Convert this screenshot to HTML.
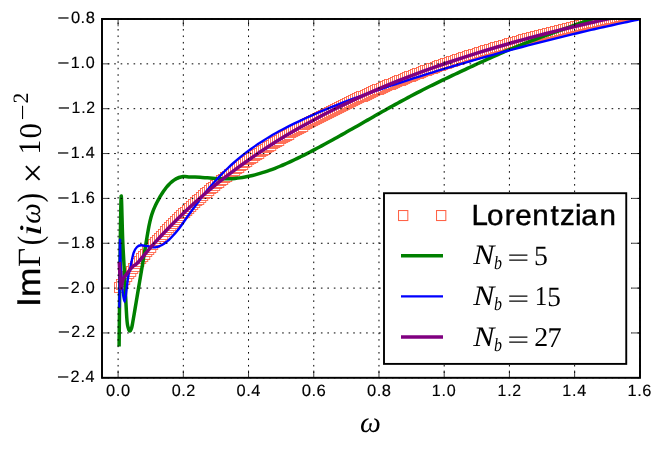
<!DOCTYPE html>
<html><head><meta charset="utf-8"><title>chart</title>
<style>html,body{margin:0;padding:0;background:#fff;}body{width:664px;height:452px;overflow:hidden;font-family:"Liberation Sans",sans-serif;}svg{display:block;will-change:transform;}text{-webkit-font-smoothing:antialiased;text-rendering:geometricPrecision;}</style>
</head><body>
<svg width="664" height="452" viewBox="0 0 664 452" role="img" aria-label="Im Gamma(i omega) versus omega chart">
<defs><clipPath id="ax"><rect x="102.0" y="19.0" width="538.0" height="358.8"/></clipPath></defs>
<rect width="664" height="452" fill="#fff"/>
<g clip-path="url(#ax)">
<g fill="#fff" stroke="#FF6347" stroke-width="0.9">
<rect x="114.45" y="282.45" width="9.3" height="10.0"/>
<rect x="116.45" y="279.45" width="9.3" height="10.0"/>
<rect x="118.45" y="276.45" width="9.3" height="10.0"/>
<rect x="120.45" y="274.45" width="9.3" height="10.0"/>
<rect x="122.45" y="271.45" width="9.3" height="10.0"/>
<rect x="124.45" y="268.45" width="9.3" height="10.0"/>
<rect x="126.45" y="266.45" width="9.3" height="10.0"/>
<rect x="128.45" y="263.45" width="9.3" height="10.0"/>
<rect x="130.45" y="261.45" width="9.3" height="10.0"/>
<rect x="132.45" y="258.45" width="9.3" height="10.0"/>
<rect x="134.45" y="256.45" width="9.3" height="10.0"/>
<rect x="136.45" y="253.45" width="9.3" height="10.0"/>
<rect x="138.45" y="251.45" width="9.3" height="10.0"/>
<rect x="140.45" y="249.45" width="9.3" height="10.0"/>
<rect x="142.45" y="246.45" width="9.3" height="10.0"/>
<rect x="144.45" y="244.45" width="9.3" height="10.0"/>
<rect x="146.45" y="242.45" width="9.3" height="10.0"/>
<rect x="148.45" y="239.45" width="9.3" height="10.0"/>
<rect x="150.45" y="237.45" width="9.3" height="10.0"/>
<rect x="152.45" y="235.45" width="9.3" height="10.0"/>
<rect x="154.45" y="233.45" width="9.3" height="10.0"/>
<rect x="156.45" y="231.45" width="9.3" height="10.0"/>
<rect x="158.45" y="229.45" width="9.3" height="10.0"/>
<rect x="160.45" y="226.45" width="9.3" height="10.0"/>
<rect x="162.45" y="224.45" width="9.3" height="10.0"/>
<rect x="164.45" y="222.45" width="9.3" height="10.0"/>
<rect x="166.45" y="220.45" width="9.3" height="10.0"/>
<rect x="168.45" y="218.45" width="9.3" height="10.0"/>
<rect x="170.45" y="216.45" width="9.3" height="10.0"/>
<rect x="172.45" y="214.45" width="9.3" height="10.0"/>
<rect x="174.45" y="212.45" width="9.3" height="10.0"/>
<rect x="176.45" y="210.45" width="9.3" height="10.0"/>
<rect x="178.45" y="208.45" width="9.3" height="10.0"/>
<rect x="180.45" y="207.45" width="9.3" height="10.0"/>
<rect x="182.45" y="205.45" width="9.3" height="10.0"/>
<rect x="184.45" y="203.45" width="9.3" height="10.0"/>
<rect x="186.45" y="201.45" width="9.3" height="10.0"/>
<rect x="188.45" y="199.45" width="9.3" height="10.0"/>
<rect x="190.45" y="197.45" width="9.3" height="10.0"/>
<rect x="192.45" y="195.45" width="9.3" height="10.0"/>
<rect x="194.45" y="194.45" width="9.3" height="10.0"/>
<rect x="196.45" y="192.45" width="9.3" height="10.0"/>
<rect x="198.45" y="190.45" width="9.3" height="10.0"/>
<rect x="200.45" y="188.45" width="9.3" height="10.0"/>
<rect x="202.45" y="187.45" width="9.3" height="10.0"/>
<rect x="204.45" y="185.45" width="9.3" height="10.0"/>
<rect x="206.45" y="183.45" width="9.3" height="10.0"/>
<rect x="208.45" y="182.45" width="9.3" height="10.0"/>
<rect x="210.45" y="180.45" width="9.3" height="10.0"/>
<rect x="212.45" y="178.45" width="9.3" height="10.0"/>
<rect x="214.45" y="177.45" width="9.3" height="10.0"/>
<rect x="216.45" y="175.45" width="9.3" height="10.0"/>
<rect x="218.45" y="174.45" width="9.3" height="10.0"/>
<rect x="220.45" y="172.45" width="9.3" height="10.0"/>
<rect x="222.45" y="171.45" width="9.3" height="10.0"/>
<rect x="224.45" y="169.45" width="9.3" height="10.0"/>
<rect x="226.45" y="168.45" width="9.3" height="10.0"/>
<rect x="228.45" y="166.45" width="9.3" height="10.0"/>
<rect x="230.45" y="165.45" width="9.3" height="10.0"/>
<rect x="232.45" y="163.45" width="9.3" height="10.0"/>
<rect x="234.45" y="162.45" width="9.3" height="10.0"/>
<rect x="236.45" y="160.45" width="9.3" height="10.0"/>
<rect x="238.45" y="159.45" width="9.3" height="10.0"/>
<rect x="240.45" y="157.45" width="9.3" height="10.0"/>
<rect x="242.45" y="156.45" width="9.3" height="10.0"/>
<rect x="244.45" y="154.45" width="9.3" height="10.0"/>
<rect x="246.45" y="153.45" width="9.3" height="10.0"/>
<rect x="248.45" y="152.45" width="9.3" height="10.0"/>
<rect x="250.45" y="150.45" width="9.3" height="10.0"/>
<rect x="252.45" y="149.45" width="9.3" height="10.0"/>
<rect x="254.45" y="148.45" width="9.3" height="10.0"/>
<rect x="256.45" y="146.45" width="9.3" height="10.0"/>
<rect x="258.45" y="145.45" width="9.3" height="10.0"/>
<rect x="260.45" y="144.45" width="9.3" height="10.0"/>
<rect x="262.45" y="142.45" width="9.3" height="10.0"/>
<rect x="264.45" y="141.45" width="9.3" height="10.0"/>
<rect x="266.45" y="140.45" width="9.3" height="10.0"/>
<rect x="268.45" y="138.45" width="9.3" height="10.0"/>
<rect x="270.45" y="137.45" width="9.3" height="10.0"/>
<rect x="272.45" y="136.45" width="9.3" height="10.0"/>
<rect x="274.45" y="135.45" width="9.3" height="10.0"/>
<rect x="276.45" y="133.45" width="9.3" height="10.0"/>
<rect x="278.45" y="132.45" width="9.3" height="10.0"/>
<rect x="280.45" y="131.45" width="9.3" height="10.0"/>
<rect x="282.45" y="130.45" width="9.3" height="10.0"/>
<rect x="284.45" y="129.45" width="9.3" height="10.0"/>
<rect x="286.45" y="127.45" width="9.3" height="10.0"/>
<rect x="288.45" y="126.45" width="9.3" height="10.0"/>
<rect x="290.45" y="125.45" width="9.3" height="10.0"/>
<rect x="292.45" y="124.45" width="9.3" height="10.0"/>
<rect x="294.45" y="123.45" width="9.3" height="10.0"/>
<rect x="296.45" y="122.45" width="9.3" height="10.0"/>
<rect x="298.45" y="121.45" width="9.3" height="10.0"/>
<rect x="300.45" y="119.45" width="9.3" height="10.0"/>
<rect x="302.45" y="118.45" width="9.3" height="10.0"/>
<rect x="304.45" y="117.45" width="9.3" height="10.0"/>
<rect x="306.45" y="116.45" width="9.3" height="10.0"/>
<rect x="308.45" y="115.45" width="9.3" height="10.0"/>
<rect x="310.45" y="114.45" width="9.3" height="10.0"/>
<rect x="312.45" y="113.45" width="9.3" height="10.0"/>
<rect x="314.45" y="112.45" width="9.3" height="10.0"/>
<rect x="316.45" y="111.45" width="9.3" height="10.0"/>
<rect x="318.45" y="110.45" width="9.3" height="10.0"/>
<rect x="320.45" y="109.45" width="9.3" height="10.0"/>
<rect x="322.45" y="108.45" width="9.3" height="10.0"/>
<rect x="324.45" y="107.45" width="9.3" height="10.0"/>
<rect x="326.45" y="106.45" width="9.3" height="10.0"/>
<rect x="328.45" y="105.45" width="9.3" height="10.0"/>
<rect x="330.45" y="104.45" width="9.3" height="10.0"/>
<rect x="332.45" y="103.45" width="9.3" height="10.0"/>
<rect x="334.45" y="102.45" width="9.3" height="10.0"/>
<rect x="336.45" y="101.45" width="9.3" height="10.0"/>
<rect x="338.45" y="100.45" width="9.3" height="10.0"/>
<rect x="340.45" y="99.45" width="9.3" height="10.0"/>
<rect x="342.45" y="98.45" width="9.3" height="10.0"/>
<rect x="344.45" y="97.45" width="9.3" height="10.0"/>
<rect x="346.45" y="96.45" width="9.3" height="10.0"/>
<rect x="348.45" y="95.45" width="9.3" height="10.0"/>
<rect x="350.45" y="94.45" width="9.3" height="10.0"/>
<rect x="352.45" y="93.45" width="9.3" height="10.0"/>
<rect x="354.45" y="92.45" width="9.3" height="10.0"/>
<rect x="356.45" y="91.45" width="9.3" height="10.0"/>
<rect x="358.45" y="91.45" width="9.3" height="10.0"/>
<rect x="360.45" y="90.45" width="9.3" height="10.0"/>
<rect x="362.45" y="89.45" width="9.3" height="10.0"/>
<rect x="364.45" y="88.45" width="9.3" height="10.0"/>
<rect x="366.45" y="87.45" width="9.3" height="10.0"/>
<rect x="368.45" y="86.45" width="9.3" height="10.0"/>
<rect x="370.45" y="85.45" width="9.3" height="10.0"/>
<rect x="372.45" y="84.45" width="9.3" height="10.0"/>
<rect x="374.45" y="84.45" width="9.3" height="10.0"/>
<rect x="376.45" y="83.45" width="9.3" height="10.0"/>
<rect x="378.45" y="82.45" width="9.3" height="10.0"/>
<rect x="380.45" y="81.45" width="9.3" height="10.0"/>
<rect x="382.45" y="80.45" width="9.3" height="10.0"/>
<rect x="384.45" y="79.45" width="9.3" height="10.0"/>
<rect x="386.45" y="79.45" width="9.3" height="10.0"/>
<rect x="388.45" y="78.45" width="9.3" height="10.0"/>
<rect x="390.45" y="77.45" width="9.3" height="10.0"/>
<rect x="392.45" y="76.45" width="9.3" height="10.0"/>
<rect x="394.45" y="75.45" width="9.3" height="10.0"/>
<rect x="396.45" y="75.45" width="9.3" height="10.0"/>
<rect x="398.45" y="74.45" width="9.3" height="10.0"/>
<rect x="400.45" y="73.45" width="9.3" height="10.0"/>
<rect x="402.45" y="72.45" width="9.3" height="10.0"/>
<rect x="404.45" y="71.45" width="9.3" height="10.0"/>
<rect x="406.45" y="71.45" width="9.3" height="10.0"/>
<rect x="408.45" y="70.45" width="9.3" height="10.0"/>
<rect x="410.45" y="69.45" width="9.3" height="10.0"/>
<rect x="412.45" y="68.45" width="9.3" height="10.0"/>
<rect x="414.45" y="68.45" width="9.3" height="10.0"/>
<rect x="416.45" y="67.45" width="9.3" height="10.0"/>
<rect x="418.45" y="66.45" width="9.3" height="10.0"/>
<rect x="420.45" y="65.45" width="9.3" height="10.0"/>
<rect x="422.45" y="65.45" width="9.3" height="10.0"/>
<rect x="424.45" y="64.45" width="9.3" height="10.0"/>
<rect x="426.45" y="63.45" width="9.3" height="10.0"/>
<rect x="428.45" y="63.45" width="9.3" height="10.0"/>
<rect x="430.45" y="62.45" width="9.3" height="10.0"/>
<rect x="432.45" y="61.45" width="9.3" height="10.0"/>
<rect x="434.45" y="60.45" width="9.3" height="10.0"/>
<rect x="436.45" y="60.45" width="9.3" height="10.0"/>
<rect x="438.45" y="59.45" width="9.3" height="10.0"/>
<rect x="440.45" y="58.45" width="9.3" height="10.0"/>
<rect x="442.45" y="58.45" width="9.3" height="10.0"/>
<rect x="444.45" y="57.45" width="9.3" height="10.0"/>
<rect x="446.45" y="56.45" width="9.3" height="10.0"/>
<rect x="448.45" y="56.45" width="9.3" height="10.0"/>
<rect x="450.45" y="55.45" width="9.3" height="10.0"/>
<rect x="452.45" y="54.45" width="9.3" height="10.0"/>
<rect x="454.45" y="54.45" width="9.3" height="10.0"/>
<rect x="456.45" y="53.45" width="9.3" height="10.0"/>
<rect x="458.45" y="52.45" width="9.3" height="10.0"/>
<rect x="460.45" y="52.45" width="9.3" height="10.0"/>
<rect x="462.45" y="51.45" width="9.3" height="10.0"/>
<rect x="464.45" y="50.45" width="9.3" height="10.0"/>
<rect x="466.45" y="50.45" width="9.3" height="10.0"/>
<rect x="468.45" y="49.45" width="9.3" height="10.0"/>
<rect x="470.45" y="49.45" width="9.3" height="10.0"/>
<rect x="472.45" y="48.45" width="9.3" height="10.0"/>
<rect x="474.45" y="47.45" width="9.3" height="10.0"/>
<rect x="476.45" y="47.45" width="9.3" height="10.0"/>
<rect x="478.45" y="46.45" width="9.3" height="10.0"/>
<rect x="480.45" y="45.45" width="9.3" height="10.0"/>
<rect x="482.45" y="45.45" width="9.3" height="10.0"/>
<rect x="484.45" y="44.45" width="9.3" height="10.0"/>
<rect x="486.45" y="44.45" width="9.3" height="10.0"/>
<rect x="488.45" y="43.45" width="9.3" height="10.0"/>
<rect x="490.45" y="42.45" width="9.3" height="10.0"/>
<rect x="492.45" y="42.45" width="9.3" height="10.0"/>
<rect x="494.45" y="41.45" width="9.3" height="10.0"/>
<rect x="496.45" y="41.45" width="9.3" height="10.0"/>
<rect x="498.45" y="40.45" width="9.3" height="10.0"/>
<rect x="500.45" y="40.45" width="9.3" height="10.0"/>
<rect x="502.45" y="39.45" width="9.3" height="10.0"/>
<rect x="504.45" y="38.45" width="9.3" height="10.0"/>
<rect x="506.45" y="38.45" width="9.3" height="10.0"/>
<rect x="508.45" y="37.45" width="9.3" height="10.0"/>
<rect x="510.45" y="37.45" width="9.3" height="10.0"/>
<rect x="512.45" y="36.45" width="9.3" height="10.0"/>
<rect x="514.45" y="36.45" width="9.3" height="10.0"/>
<rect x="516.45" y="35.45" width="9.3" height="10.0"/>
<rect x="518.45" y="34.45" width="9.3" height="10.0"/>
<rect x="520.45" y="34.45" width="9.3" height="10.0"/>
<rect x="522.45" y="33.45" width="9.3" height="10.0"/>
<rect x="524.45" y="33.45" width="9.3" height="10.0"/>
<rect x="526.45" y="32.45" width="9.3" height="10.0"/>
<rect x="528.45" y="32.45" width="9.3" height="10.0"/>
<rect x="530.45" y="31.45" width="9.3" height="10.0"/>
<rect x="532.45" y="31.45" width="9.3" height="10.0"/>
<rect x="534.45" y="30.45" width="9.3" height="10.0"/>
<rect x="536.45" y="30.45" width="9.3" height="10.0"/>
<rect x="538.45" y="29.45" width="9.3" height="10.0"/>
<rect x="540.45" y="29.45" width="9.3" height="10.0"/>
<rect x="542.45" y="28.45" width="9.3" height="10.0"/>
<rect x="544.45" y="28.45" width="9.3" height="10.0"/>
<rect x="546.45" y="27.45" width="9.3" height="10.0"/>
<rect x="548.45" y="27.45" width="9.3" height="10.0"/>
<rect x="550.45" y="26.45" width="9.3" height="10.0"/>
<rect x="552.45" y="26.45" width="9.3" height="10.0"/>
<rect x="554.45" y="25.45" width="9.3" height="10.0"/>
<rect x="556.45" y="25.45" width="9.3" height="10.0"/>
<rect x="558.45" y="24.45" width="9.3" height="10.0"/>
<rect x="560.45" y="24.45" width="9.3" height="10.0"/>
<rect x="562.45" y="23.45" width="9.3" height="10.0"/>
<rect x="564.45" y="23.45" width="9.3" height="10.0"/>
<rect x="566.45" y="22.45" width="9.3" height="10.0"/>
<rect x="568.45" y="22.45" width="9.3" height="10.0"/>
<rect x="570.45" y="21.45" width="9.3" height="10.0"/>
<rect x="572.45" y="21.45" width="9.3" height="10.0"/>
<rect x="574.45" y="20.45" width="9.3" height="10.0"/>
<rect x="576.45" y="20.45" width="9.3" height="10.0"/>
<rect x="578.45" y="19.45" width="9.3" height="10.0"/>
<rect x="580.45" y="19.45" width="9.3" height="10.0"/>
<rect x="582.45" y="18.45" width="9.3" height="10.0"/>
<rect x="584.45" y="18.45" width="9.3" height="10.0"/>
<rect x="586.45" y="17.45" width="9.3" height="10.0"/>
<rect x="588.45" y="17.45" width="9.3" height="10.0"/>
<rect x="590.45" y="17.45" width="9.3" height="10.0"/>
<rect x="592.45" y="16.45" width="9.3" height="10.0"/>
<rect x="594.45" y="16.45" width="9.3" height="10.0"/>
<rect x="596.45" y="15.45" width="9.3" height="10.0"/>
<rect x="598.45" y="15.45" width="9.3" height="10.0"/>
<rect x="600.45" y="14.45" width="9.3" height="10.0"/>
<rect x="602.45" y="14.45" width="9.3" height="10.0"/>
<rect x="604.45" y="13.45" width="9.3" height="10.0"/>
<rect x="606.45" y="13.45" width="9.3" height="10.0"/>
<rect x="608.45" y="13.45" width="9.3" height="10.0"/>
<rect x="610.45" y="12.45" width="9.3" height="10.0"/>
<rect x="612.45" y="12.45" width="9.3" height="10.0"/>
<rect x="614.45" y="11.45" width="9.3" height="10.0"/>
<rect x="616.45" y="11.45" width="9.3" height="10.0"/>
<rect x="618.45" y="10.45" width="9.3" height="10.0"/>
<rect x="620.45" y="10.45" width="9.3" height="10.0"/>
<rect x="622.45" y="10.45" width="9.3" height="10.0"/>
<rect x="624.45" y="9.45" width="9.3" height="10.0"/>
<rect x="626.45" y="9.45" width="9.3" height="10.0"/>
<rect x="628.45" y="8.45" width="9.3" height="10.0"/>
<rect x="630.45" y="8.45" width="9.3" height="10.0"/>
<rect x="632.45" y="7.45" width="9.3" height="10.0"/>
<rect x="634.45" y="7.45" width="9.3" height="10.0"/>
</g>
<path d="M119.10,346.50C119.18,338.75 119.42,316.08 119.60,300.00C119.78,283.92 119.93,267.33 120.20,250.00C120.47,232.67 120.78,197.67 121.20,196.00C121.62,194.33 122.15,227.00 122.70,240.00C123.25,253.00 123.82,261.00 124.50,274.00C125.18,287.00 126.17,309.00 126.80,318.00C127.43,327.00 127.77,325.83 128.30,328.00C128.83,330.17 129.45,331.00 130.00,331.00C130.55,331.00 131.13,329.50 131.60,328.00C132.07,326.50 132.23,325.15 132.80,322.00C133.37,318.85 134.30,313.25 135.00,309.12C135.70,305.00 136.33,301.21 137.00,297.25C137.67,293.29 138.33,289.33 139.00,285.35C139.67,281.38 140.33,277.41 141.00,273.42C141.67,269.43 142.33,265.43 143.00,261.42C143.67,257.41 144.33,253.38 145.00,249.35C145.67,245.31 146.33,241.12 147.00,237.21C147.67,233.31 148.33,229.23 149.00,225.89C149.67,222.56 150.33,219.67 151.00,217.21C151.67,214.75 152.33,212.93 153.00,211.13C153.67,209.32 154.33,207.84 155.00,206.37C155.67,204.91 156.33,203.61 157.00,202.31C157.67,201.01 158.33,199.78 159.00,198.59C159.67,197.40 160.33,196.26 161.00,195.17C161.67,194.08 162.33,193.04 163.00,192.06C163.67,191.07 164.33,190.13 165.00,189.24C165.67,188.36 166.33,187.52 167.00,186.73C167.67,185.93 168.33,185.19 169.00,184.50C169.67,183.80 170.33,183.15 171.00,182.55C171.67,181.95 172.33,181.39 173.00,180.88C173.67,180.37 174.33,179.91 175.00,179.49C175.67,179.07 176.33,178.70 177.00,178.37C177.67,178.04 178.33,177.76 179.00,177.51C179.67,177.27 180.33,177.07 181.00,176.92C181.67,176.76 182.33,176.65 183.00,176.58C183.67,176.50 183.83,176.41 185.00,176.48C186.17,176.56 188.33,176.92 190.00,177.02C191.67,177.12 193.33,177.02 195.00,177.07C196.67,177.12 198.33,177.21 200.00,177.31C201.67,177.41 203.33,177.54 205.00,177.67C206.67,177.79 208.33,177.94 210.00,178.07C211.67,178.20 213.33,178.33 215.00,178.45C216.67,178.56 218.33,178.67 220.00,178.74C221.67,178.81 223.33,178.86 225.00,178.87C226.67,178.88 228.33,178.85 230.00,178.78C231.67,178.71 233.33,178.59 235.00,178.44C236.67,178.29 238.33,178.10 240.00,177.87C241.67,177.64 243.33,177.37 245.00,177.07C246.67,176.76 248.33,176.42 250.00,176.05C251.67,175.68 253.33,175.28 255.00,174.84C256.67,174.41 258.33,173.94 260.00,173.44C261.67,172.95 263.33,172.42 265.00,171.87C266.67,171.32 268.33,170.74 270.00,170.14C271.67,169.54 273.33,168.91 275.00,168.26C276.67,167.61 278.33,166.94 280.00,166.24C281.67,165.55 283.33,164.84 285.00,164.11C286.67,163.37 288.33,162.62 290.00,161.86C291.67,161.09 293.33,160.31 295.00,159.51C296.67,158.72 298.33,157.90 300.00,157.08C301.67,156.26 303.33,155.42 305.00,154.58C306.67,153.74 308.33,152.88 310.00,152.02C311.67,151.16 313.33,150.29 315.00,149.41C316.67,148.53 318.33,147.64 320.00,146.75C321.67,145.86 323.33,144.96 325.00,144.05C326.67,143.15 328.33,142.23 330.00,141.32C331.67,140.40 333.33,139.48 335.00,138.55C336.67,137.62 338.33,136.69 340.00,135.75C341.67,134.82 343.33,133.88 345.00,132.94C346.67,132.00 348.33,131.05 350.00,130.10C351.67,129.16 353.33,128.21 355.00,127.26C356.67,126.31 358.33,125.36 360.00,124.40C361.67,123.45 363.33,122.50 365.00,121.55C366.67,120.60 368.33,119.64 370.00,118.69C371.67,117.74 373.33,116.79 375.00,115.85C376.67,114.90 378.33,113.95 380.00,113.01C381.67,112.07 383.33,111.13 385.00,110.19C386.67,109.26 388.33,108.32 390.00,107.39C391.67,106.47 393.33,105.54 395.00,104.62C396.67,103.70 398.33,102.79 400.00,101.88C401.67,100.98 403.33,100.07 405.00,99.18C406.67,98.29 408.33,97.40 410.00,96.52C411.67,95.64 413.33,94.76 415.00,93.90C416.67,93.03 418.33,92.18 420.00,91.32C421.67,90.47 423.33,89.63 425.00,88.79C426.67,87.95 428.33,87.12 430.00,86.29C431.67,85.46 433.33,84.64 435.00,83.82C436.67,83.01 438.33,82.20 440.00,81.39C441.67,80.58 443.33,79.78 445.00,78.98C446.67,78.18 448.33,77.39 450.00,76.60C451.67,75.81 453.33,75.02 455.00,74.23C456.67,73.45 458.33,72.67 460.00,71.89C461.67,71.11 463.33,70.33 465.00,69.56C466.67,68.78 468.33,68.01 470.00,67.24C471.67,66.47 473.33,65.70 475.00,64.93C476.67,64.16 478.33,63.40 480.00,62.63C481.67,61.87 483.33,61.10 485.00,60.34C486.67,59.58 488.33,58.83 490.00,58.07C491.67,57.32 493.33,56.57 495.00,55.83C496.67,55.09 498.33,54.36 500.00,53.63C501.67,52.90 503.33,52.18 505.00,51.47C506.67,50.76 508.33,50.05 510.00,49.36C511.67,48.66 513.33,47.98 515.00,47.30C516.67,46.62 518.33,45.95 520.00,45.29C521.67,44.63 523.33,43.98 525.00,43.33C526.67,42.68 528.33,42.04 530.00,41.40C531.67,40.76 533.33,40.13 535.00,39.51C536.67,38.88 538.33,38.26 540.00,37.64C541.67,37.03 543.33,36.42 545.00,35.81C546.67,35.20 548.33,34.59 550.00,33.99C551.67,33.38 553.33,32.78 555.00,32.18C556.67,31.58 558.33,30.99 560.00,30.39C561.67,29.79 563.33,29.20 565.00,28.60C566.67,28.01 568.33,27.42 570.00,26.82C571.67,26.23 573.33,25.63 575.00,25.04C576.67,24.44 578.33,23.84 580.00,23.24C581.67,22.64 583.33,22.04 585.00,21.44C586.67,20.84 588.33,20.23 590.00,19.62C591.67,19.01 593.33,18.40 595.00,17.78C596.67,17.17 599.17,16.23 600.00,15.92" fill="none" stroke="#008000" stroke-width="3.5" stroke-linejoin="round"/>
<path d="M119.30,307.70C119.35,303.08 119.48,291.28 119.60,280.00C119.72,268.72 119.83,243.00 120.00,240.00C120.17,237.00 120.18,253.67 120.60,262.00C121.02,270.33 121.83,283.33 122.50,290.00C123.17,296.67 123.93,302.00 124.60,302.00C125.27,302.00 125.88,294.28 126.50,290.00C127.12,285.72 127.62,280.23 128.30,276.30C128.98,272.37 129.72,270.32 130.60,266.40C131.48,262.48 132.53,256.03 133.60,252.80C134.67,249.57 135.75,248.25 137.00,247.00C138.25,245.75 139.27,245.42 141.10,245.30C142.93,245.18 145.57,245.97 148.00,246.30C150.43,246.63 153.37,247.52 155.70,247.30C158.03,247.08 160.23,245.88 162.00,245.00C163.77,244.12 164.83,243.17 166.30,242.00C167.77,240.83 168.80,240.08 170.80,238.00C172.80,235.92 175.48,233.12 178.30,229.50C181.12,225.88 184.38,220.88 187.70,216.30C191.02,211.72 195.48,205.67 198.20,202.00C200.92,198.33 202.03,196.79 204.00,194.29C205.97,191.79 208.00,189.35 210.00,187.01C212.00,184.66 214.00,182.41 216.00,180.22C218.00,178.03 220.00,175.93 222.00,173.89C224.00,171.86 226.00,169.90 228.00,168.00C230.00,166.11 232.00,164.28 234.00,162.52C236.00,160.75 238.00,159.05 240.00,157.41C242.00,155.76 244.00,154.18 246.00,152.64C248.00,151.11 250.00,149.63 252.00,148.20C254.00,146.77 256.00,145.39 258.00,144.05C260.00,142.71 262.00,141.42 264.00,140.16C266.00,138.90 268.00,137.69 270.00,136.51C272.00,135.32 274.00,134.18 276.00,133.06C278.00,131.94 280.00,130.85 282.00,129.79C284.00,128.73 286.00,127.69 288.00,126.67C290.00,125.66 292.00,124.66 294.00,123.68C296.00,122.70 298.00,121.74 300.00,120.80C302.00,119.85 304.00,118.92 306.00,118.01C308.00,117.10 310.00,116.20 312.00,115.31C314.00,114.43 316.00,113.56 318.00,112.70C320.00,111.84 322.00,111.00 324.00,110.16C326.00,109.33 328.00,108.51 330.00,107.70C332.00,106.89 334.00,106.10 336.00,105.31C338.00,104.52 340.00,103.75 342.00,102.98C344.00,102.21 346.00,101.46 348.00,100.71C350.00,99.96 352.00,99.22 354.00,98.49C356.00,97.75 358.00,97.03 360.00,96.31C362.00,95.60 364.00,94.89 366.00,94.18C368.00,93.48 370.00,92.78 372.00,92.09C374.00,91.39 376.00,90.71 378.00,90.02C380.00,89.34 382.00,88.66 384.00,87.99C386.00,87.31 388.00,86.64 390.00,85.98C392.00,85.31 394.00,84.65 396.00,83.99C398.00,83.33 400.00,82.68 402.00,82.03C404.00,81.38 406.00,80.73 408.00,80.09C410.00,79.45 412.00,78.81 414.00,78.17C416.00,77.54 418.00,76.91 420.00,76.28C422.00,75.65 424.00,75.03 426.00,74.41C428.00,73.78 430.00,73.17 432.00,72.55C434.00,71.94 436.00,71.33 438.00,70.72C440.00,70.11 442.00,69.51 444.00,68.91C446.00,68.31 448.00,67.71 450.00,67.11C452.00,66.52 454.00,65.93 456.00,65.34C458.00,64.75 460.00,64.16 462.00,63.58C464.00,63.00 466.00,62.42 468.00,61.84C470.00,61.27 472.00,60.69 474.00,60.12C476.00,59.55 478.00,58.98 480.00,58.42C482.00,57.85 484.00,57.29 486.00,56.73C488.00,56.17 490.00,55.62 492.00,55.06C494.00,54.51 496.00,53.96 498.00,53.41C500.00,52.86 502.00,52.32 504.00,51.78C506.00,51.24 508.00,50.70 510.00,50.16C512.00,49.62 514.00,49.09 516.00,48.56C518.00,48.03 520.00,47.50 522.00,46.97C524.00,46.45 526.00,45.93 528.00,45.41C530.00,44.89 532.00,44.37 534.00,43.85C536.00,43.34 538.00,42.83 540.00,42.32C542.00,41.81 544.00,41.30 546.00,40.80C548.00,40.30 550.00,39.80 552.00,39.30C554.00,38.80 556.00,38.31 558.00,37.81C560.00,37.32 562.00,36.83 564.00,36.35C566.00,35.86 568.00,35.38 570.00,34.90C572.00,34.41 574.00,33.94 576.00,33.46C578.00,32.99 580.00,32.51 582.00,32.04C584.00,31.57 586.00,31.11 588.00,30.64C590.00,30.18 592.00,29.72 594.00,29.26C596.00,28.80 598.00,28.35 600.00,27.90C602.00,27.44 604.00,27.00 606.00,26.55C608.00,26.10 610.00,25.66 612.00,25.22C614.00,24.78 616.00,24.34 618.00,23.91C620.00,23.48 622.00,23.05 624.00,22.62C626.00,22.19 628.00,21.77 630.00,21.34C632.00,20.92 634.33,20.48 636.00,20.09C637.67,19.70 639.33,19.18 640.00,19.00" fill="none" stroke="#0000FF" stroke-width="2.4" stroke-linejoin="round"/>
<path d="M119.30,262.00C119.40,264.17 119.70,271.33 119.90,275.00C120.10,278.67 120.32,281.78 120.50,284.00C120.68,286.22 120.78,288.22 121.00,288.30C121.22,288.38 121.40,286.13 121.80,284.50C122.20,282.87 122.43,280.45 123.40,278.50C124.37,276.55 126.00,274.83 127.60,272.80C129.20,270.77 131.32,267.98 133.00,266.30C134.68,264.62 134.17,266.49 137.67,262.71C141.16,258.94 148.54,249.73 153.97,243.65C159.41,237.57 164.84,231.80 170.28,226.24C175.71,220.67 181.15,215.38 186.58,210.26C192.02,205.15 197.45,200.27 202.89,195.55C208.32,190.84 213.76,186.33 219.19,181.97C224.63,177.60 230.06,173.43 235.50,169.38C240.93,165.33 246.37,161.45 251.80,157.69C257.24,153.92 262.67,150.30 268.11,146.79C273.54,143.28 278.98,139.90 284.41,136.62C289.85,133.34 295.28,130.17 300.72,127.10C306.15,124.03 311.59,121.06 317.02,118.17C322.46,115.28 327.89,112.50 333.33,109.78C338.76,107.07 344.20,104.44 349.63,101.88C355.07,99.32 360.50,96.84 365.94,94.43C371.37,92.01 376.81,89.67 382.24,87.39C387.68,85.11 393.11,82.89 398.55,80.73C403.98,78.57 409.42,76.47 414.85,74.42C420.29,72.37 425.72,70.37 431.16,68.43C436.59,66.48 442.03,64.59 447.46,62.73C452.90,60.88 458.33,59.08 463.77,57.32C469.20,55.56 474.64,53.84 480.07,52.16C485.51,50.48 490.94,48.84 496.38,47.24C501.81,45.64 507.25,44.07 512.68,42.54C518.12,41.01 523.55,39.52 528.99,38.05C534.42,36.59 539.86,35.16 545.29,33.76C550.73,32.35 556.16,30.99 561.60,29.64C567.03,28.30 572.47,26.99 577.90,25.70C583.34,24.41 588.77,23.15 594.21,21.92C599.64,20.68 605.08,19.47 610.51,18.29C615.95,17.10 621.38,15.94 626.82,14.80C632.25,13.65 640.40,12.00 643.12,11.44" fill="none" stroke="#800080" stroke-width="3.5" stroke-linejoin="round"/>
</g>
<g stroke="#000" stroke-width="1.0" stroke-dasharray="1.6,4.86" fill="none">
<line x1="118.10" y1="377.8" x2="118.10" y2="19.0" stroke-dashoffset="1.65"/>
<line x1="183.32" y1="377.8" x2="183.32" y2="19.0" stroke-dashoffset="1.65"/>
<line x1="248.54" y1="377.8" x2="248.54" y2="19.0" stroke-dashoffset="1.65"/>
<line x1="313.76" y1="377.8" x2="313.76" y2="19.0" stroke-dashoffset="1.65"/>
<line x1="378.98" y1="377.8" x2="378.98" y2="19.0" stroke-dashoffset="1.65"/>
<line x1="444.20" y1="377.8" x2="444.20" y2="19.0" stroke-dashoffset="1.65"/>
<line x1="509.42" y1="377.8" x2="509.42" y2="19.0" stroke-dashoffset="1.65"/>
<line x1="574.64" y1="377.8" x2="574.64" y2="19.0" stroke-dashoffset="1.65"/>
<line x1="639.86" y1="377.8" x2="639.86" y2="19.0" stroke-dashoffset="1.65"/>
<line x1="102.0" y1="19.00" x2="640.0" y2="19.00" stroke-dashoffset="0.72"/>
<line x1="102.0" y1="63.85" x2="640.0" y2="63.85" stroke-dashoffset="0.72"/>
<line x1="102.0" y1="108.70" x2="640.0" y2="108.70" stroke-dashoffset="0.72"/>
<line x1="102.0" y1="153.55" x2="640.0" y2="153.55" stroke-dashoffset="0.72"/>
<line x1="102.0" y1="198.40" x2="640.0" y2="198.40" stroke-dashoffset="0.72"/>
<line x1="102.0" y1="243.25" x2="640.0" y2="243.25" stroke-dashoffset="0.72"/>
<line x1="102.0" y1="288.10" x2="640.0" y2="288.10" stroke-dashoffset="0.72"/>
<line x1="102.0" y1="332.95" x2="640.0" y2="332.95" stroke-dashoffset="0.72"/>
<line x1="102.0" y1="377.80" x2="640.0" y2="377.80" stroke-dashoffset="0.72"/>
</g>
<g stroke="#000" stroke-width="0.75">
<line x1="118.10" y1="377.8" x2="118.10" y2="370.5"/>
<line x1="118.10" y1="19.0" x2="118.10" y2="26.3"/>
<line x1="183.32" y1="377.8" x2="183.32" y2="370.5"/>
<line x1="183.32" y1="19.0" x2="183.32" y2="26.3"/>
<line x1="248.54" y1="377.8" x2="248.54" y2="370.5"/>
<line x1="248.54" y1="19.0" x2="248.54" y2="26.3"/>
<line x1="313.76" y1="377.8" x2="313.76" y2="370.5"/>
<line x1="313.76" y1="19.0" x2="313.76" y2="26.3"/>
<line x1="378.98" y1="377.8" x2="378.98" y2="370.5"/>
<line x1="378.98" y1="19.0" x2="378.98" y2="26.3"/>
<line x1="444.20" y1="377.8" x2="444.20" y2="370.5"/>
<line x1="444.20" y1="19.0" x2="444.20" y2="26.3"/>
<line x1="509.42" y1="377.8" x2="509.42" y2="370.5"/>
<line x1="509.42" y1="19.0" x2="509.42" y2="26.3"/>
<line x1="574.64" y1="377.8" x2="574.64" y2="370.5"/>
<line x1="574.64" y1="19.0" x2="574.64" y2="26.3"/>
<line x1="639.86" y1="377.8" x2="639.86" y2="370.5"/>
<line x1="639.86" y1="19.0" x2="639.86" y2="26.3"/>
<line x1="102.0" y1="19.00" x2="109.3" y2="19.00"/>
<line x1="640.0" y1="19.00" x2="632.7" y2="19.00"/>
<line x1="102.0" y1="63.85" x2="109.3" y2="63.85"/>
<line x1="640.0" y1="63.85" x2="632.7" y2="63.85"/>
<line x1="102.0" y1="108.70" x2="109.3" y2="108.70"/>
<line x1="640.0" y1="108.70" x2="632.7" y2="108.70"/>
<line x1="102.0" y1="153.55" x2="109.3" y2="153.55"/>
<line x1="640.0" y1="153.55" x2="632.7" y2="153.55"/>
<line x1="102.0" y1="198.40" x2="109.3" y2="198.40"/>
<line x1="640.0" y1="198.40" x2="632.7" y2="198.40"/>
<line x1="102.0" y1="243.25" x2="109.3" y2="243.25"/>
<line x1="640.0" y1="243.25" x2="632.7" y2="243.25"/>
<line x1="102.0" y1="288.10" x2="109.3" y2="288.10"/>
<line x1="640.0" y1="288.10" x2="632.7" y2="288.10"/>
<line x1="102.0" y1="332.95" x2="109.3" y2="332.95"/>
<line x1="640.0" y1="332.95" x2="632.7" y2="332.95"/>
<line x1="102.0" y1="377.80" x2="109.3" y2="377.80"/>
<line x1="640.0" y1="377.80" x2="632.7" y2="377.80"/>
</g>
<rect x="102.0" y="19.0" width="538.0" height="358.8" fill="none" stroke="#000" stroke-width="1.95"/>
<g font-family="Liberation Sans, sans-serif" fill="#000" stroke="#000" stroke-width="0.15" style="font-kerning:none">
<text transform="translate(0,396.30) scale(1.0016,1)" x="105.95 115.63 120.76" y="0" font-size="16.41" >0.0</text>
<text transform="translate(0,396.30) scale(0.9857,1)" x="174.17 183.97 189.01" y="0" font-size="16.41" >0.2</text>
<text transform="translate(0,396.30) scale(1.0016,1)" x="236.10 245.79 250.91" y="0" font-size="16.41" >0.4</text>
<text transform="translate(0,396.30) scale(1.0172,1)" x="296.57 306.15 311.16" y="0" font-size="16.41" >0.6</text>
<text transform="translate(0,396.30) scale(1.0065,1)" x="364.63 374.28 379.37" y="0" font-size="16.41" >0.8</text>
<text transform="translate(0,396.30) scale(0.9824,1)" x="439.60 449.51 454.79" y="0" font-size="16.41" >1.0</text>
<text transform="translate(0,396.30) scale(0.9653,1)" x="515.32 525.36 530.56" y="0" font-size="16.41" >1.2</text>
<text transform="translate(0,396.30) scale(0.9829,1)" x="572.01 581.92 587.19" y="0" font-size="16.41" >1.4</text>
<text transform="translate(0,396.30) scale(0.9985,1)" x="628.40 638.19 643.34" y="0" font-size="16.41" >1.6</text>
<text transform="translate(57.31,24.42) scale(1.1638,1)" font-family="Liberation Sans, sans-serif" font-size="18.10" stroke="none">−</text>
<text transform="translate(0,23.40) scale(1.0065,1)" x="70.43 80.08 85.17" y="0" font-size="16.41" >0.8</text>
<text transform="translate(57.28,69.27) scale(1.1638,1)" font-family="Liberation Sans, sans-serif" font-size="18.10" stroke="none">−</text>
<text transform="translate(0,68.25) scale(0.9824,1)" x="72.15 82.06 87.34" y="0" font-size="16.41" >1.0</text>
<text transform="translate(57.81,114.12) scale(1.1638,1)" font-family="Liberation Sans, sans-serif" font-size="18.10" stroke="none">−</text>
<text transform="translate(0,113.10) scale(0.9653,1)" x="74.06 84.10 89.30" y="0" font-size="16.41" >1.2</text>
<text transform="translate(57.12,158.97) scale(1.1638,1)" font-family="Liberation Sans, sans-serif" font-size="18.10" stroke="none">−</text>
<text transform="translate(0,157.95) scale(0.9829,1)" x="71.95 81.86 87.13" y="0" font-size="16.41" >1.4</text>
<text transform="translate(57.23,203.82) scale(1.1638,1)" font-family="Liberation Sans, sans-serif" font-size="18.10" stroke="none">−</text>
<text transform="translate(0,202.80) scale(0.9985,1)" x="70.86 80.65 85.81" y="0" font-size="16.41" >1.6</text>
<text transform="translate(57.31,248.67) scale(1.1638,1)" font-family="Liberation Sans, sans-serif" font-size="18.10" stroke="none">−</text>
<text transform="translate(0,247.65) scale(0.9874,1)" x="71.80 81.67 86.90" y="0" font-size="16.41" >1.8</text>
<text transform="translate(57.28,293.52) scale(1.1638,1)" font-family="Liberation Sans, sans-serif" font-size="18.10" stroke="none">−</text>
<text transform="translate(0,292.50) scale(0.9857,1)" x="71.77 81.79 87.03" y="0" font-size="16.41" >2.0</text>
<text transform="translate(57.81,338.37) scale(1.1638,1)" font-family="Liberation Sans, sans-serif" font-size="18.10" stroke="none">−</text>
<text transform="translate(0,337.35) scale(0.9690,1)" x="73.62 83.77 88.94" y="0" font-size="16.41" >2.2</text>
<text transform="translate(57.12,383.22) scale(1.1638,1)" font-family="Liberation Sans, sans-serif" font-size="18.10" stroke="none">−</text>
<text transform="translate(0,382.20) scale(0.9860,1)" x="71.58 81.59 86.83" y="0" font-size="16.41" >2.4</text>
</g>
<text transform="translate(360.02,431.81) scale(1.0109,1)" font-family="Liberation Serif, serif" font-style="italic" font-size="29.26">ω</text>
<g transform="translate(40.3,306.7) rotate(-90)" style="font-kerning:none">
<g font-family="Liberation Sans, sans-serif" stroke="#000" stroke-width="0.35"><text transform="translate(0,0.00) scale(1.0709,1)" x="-0.27 9.13" y="0" font-size="32.81" >Im</text></g>
<text transform="translate(39.70,0.00) scale(1.0223,1)" font-family="Liberation Serif, serif" font-size="32.42">Γ</text>
<text transform="translate(61.47,0.48) scale(0.8307,1)" font-family="Liberation Serif, serif" font-size="34.31">(</text>
<text transform="translate(70.57,0.35) scale(1.3795,1)" font-family="Liberation Serif, serif" font-style="italic" font-size="31.58">i</text>
<text transform="translate(82.86,0.06) scale(0.9906,1)" font-family="Liberation Serif, serif" font-style="italic" font-size="29.49">ω</text>
<text transform="translate(104.09,0.48) scale(0.8284,1)" font-family="Liberation Serif, serif" font-size="34.31">)</text>
<text transform="translate(123.29,4.49) scale(1.0012,1)" font-family="Liberation Serif, serif" font-size="36.88">×</text>
<text transform="translate(152.25,0.00) scale(0.9412,1)" font-family="Liberation Serif, serif" font-size="31.36">1</text>
<text transform="translate(168.27,0.38) scale(0.9736,1)" font-family="Liberation Serif, serif" font-size="31.70">0</text>
<text transform="translate(203.30,-11.90) scale(0.9910,1)" font-family="Liberation Serif, serif" font-size="21.90">2</text>
<text transform="translate(186.17,-9.88) scale(1.2703,1)" font-family="Liberation Serif, serif" font-size="22.50">−</text>
</g>
<rect x="384.0" y="193.2" width="242.25" height="170.7" fill="#fff" stroke="#000" stroke-width="1.9"/>
<rect x="398.52" y="210.53" width="9.3" height="10.0" fill="#fff" stroke="#FF6347" stroke-width="1.05"/>
<rect x="436.52" y="210.53" width="9.3" height="10.0" fill="#fff" stroke="#FF6347" stroke-width="1.05"/>
<line x1="401.0" x2="443.0" y1="255.85" y2="255.85" stroke="#008000" stroke-width="3.5"/>
<line x1="401.0" x2="443.0" y1="296.4" y2="296.4" stroke="#0000FF" stroke-width="2.4"/>
<line x1="401.0" x2="443.0" y1="336.95" y2="336.95" stroke="#800080" stroke-width="3.5"/>
<g font-family="Liberation Sans, sans-serif" stroke="#000" stroke-width="0.45" style="font-kerning:none"><text transform="translate(0,224.50) scale(1.0192,1)" x="462.50 477.73 495.26 505.43 522.28 540.02 549.38 564.12 570.24 588.15" y="0" font-size="29.01" >Lorentzian</text></g>
<g>
<text transform="translate(473.33,264.20) scale(1.1307,1)" font-family="Liberation Serif, serif" font-style="italic" font-size="28.10">N</text>
<text transform="translate(494.01,268.82) scale(0.8438,1)" font-family="Liberation Serif, serif" font-style="italic" font-size="18.90">b</text>
<text transform="translate(507.25,265.87) scale(1.5447,1)" font-family="Liberation Serif, serif" font-size="25.32">=</text>
<text transform="translate(533.98,264.50) scale(0.9950,1)" font-family="Liberation Serif, serif" font-size="27.94">5</text>
</g>
<g>
<text transform="translate(473.33,305.20) scale(1.1307,1)" font-family="Liberation Serif, serif" font-style="italic" font-size="28.10">N</text>
<text transform="translate(494.01,309.82) scale(0.8438,1)" font-family="Liberation Serif, serif" font-style="italic" font-size="18.90">b</text>
<text transform="translate(507.25,306.87) scale(1.5447,1)" font-family="Liberation Serif, serif" font-size="25.32">=</text>
<text transform="translate(534.80,305.20) scale(0.9168,1)" font-family="Liberation Serif, serif" font-size="27.27">1</text>
<text transform="translate(547.31,305.50) scale(0.9772,1)" font-family="Liberation Serif, serif" font-size="27.94">5</text>
</g>
<g>
<text transform="translate(473.33,346.20) scale(1.1307,1)" font-family="Liberation Serif, serif" font-style="italic" font-size="28.10">N</text>
<text transform="translate(494.01,350.82) scale(0.8438,1)" font-family="Liberation Serif, serif" font-style="italic" font-size="18.90">b</text>
<text transform="translate(507.25,347.87) scale(1.5447,1)" font-family="Liberation Serif, serif" font-size="25.32">=</text>
<text transform="translate(534.37,346.20) scale(1.0277,1)" font-family="Liberation Serif, serif" font-size="27.19">2</text>
<text transform="translate(547.43,346.77) scale(0.9899,1)" font-family="Liberation Serif, serif" font-size="28.67">7</text>
</g>
</svg>
</body></html>
